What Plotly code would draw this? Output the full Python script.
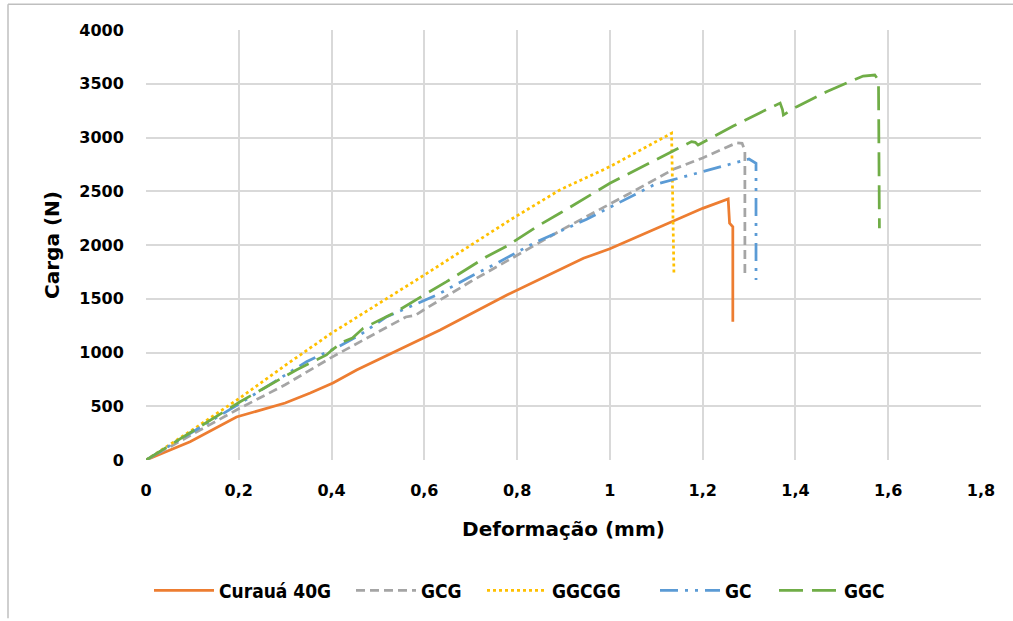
import plotly.graph_objects as go

# ---- data ----
curaua_x = [0, 0.095, 0.195, 0.224, 0.30, 0.354, 0.403, 0.454, 0.634, 0.778, 0.943, 1.0, 1.2, 1.255, 1.257, 1.258, 1.265, 1.265]
curaua_y = [0, 170, 400, 437, 530, 623, 716, 837, 1209, 1535, 1876, 1965, 2341, 2428, 2300, 2202, 2170, 1287]

gcg_x = [0, 0.1, 0.195, 0.3, 0.4, 0.5, 0.56, 0.58, 0.6, 0.7, 0.8, 0.9, 1.036, 1.137, 1.2, 1.25, 1.273, 1.285, 1.291, 1.291]
gcg_y = [0, 235, 465, 700, 955, 1190, 1330, 1345, 1400, 1660, 1907, 2150, 2465, 2704, 2810, 2905, 2950, 2945, 2880, 1720]

ggcgg_x = [0, 0.1, 0.2, 0.3, 0.4, 0.6, 0.785, 0.892, 1.0, 1.072, 1.133, 1.138]
ggcgg_y = [0, 280, 570, 880, 1180, 1721, 2233, 2512, 2729, 2900, 3040, 1742]

gc_x = [0, 0.1, 0.2, 0.3, 0.346, 0.415, 0.461, 0.519, 0.584, 0.627, 0.706, 0.749, 0.835, 0.95, 1.094, 1.2, 1.27, 1.30, 1.315, 1.315]
gc_y = [0, 260, 520, 790, 915, 1054, 1163, 1333, 1457, 1535, 1721, 1814, 2015, 2240, 2558, 2682, 2767, 2800, 2760, 1674]

ggc_x = [0, 0.1, 0.203, 0.26, 0.325, 0.389, 0.40, 0.425, 0.445, 0.468, 0.54, 0.605, 0.648, 0.734, 0.778, 0.842, 0.892, 1.0, 1.115,
         1.166, 1.176, 1.184, 1.19, 1.23, 1.266, 1.324, 1.355, 1.367, 1.372, 1.374, 1.385, 1.403, 1.467, 1.518, 1.546, 1.571, 1.579, 1.581]
ggc_y = [0, 270, 542, 682, 840, 977, 1020, 1100, 1135, 1225, 1380, 1550, 1659, 1891, 1990, 2170, 2295, 2574, 2828,
         2946, 2962, 2955, 2930, 3023, 3107, 3231, 3300, 3320, 3260, 3209, 3240, 3287, 3426, 3519, 3572, 3581, 3535, 2155]

x_ticks = [0, 0.2, 0.4, 0.6, 0.8, 1.0, 1.2, 1.4, 1.6, 1.8]
x_tick_labels = ["0", "0,2", "0,4", "0,6", "0,8", "1", "1,2", "1,4", "1,6", "1,8"]
y_ticks = [0, 500, 1000, 1500, 2000, 2500, 3000, 3500, 4000]
y_tick_labels = [str(v) for v in y_ticks]

series = [
    ("Curauá 40G", curaua_x, curaua_y, "#ED7D31", "solid"),
    ("GCG", gcg_x, gcg_y, "#A5A5A5", "9px,5px"),
    ("GGCGG", ggcgg_x, ggcgg_y, "#FFC000", "3px,3px"),
    ("GC", gc_x, gc_y, "#5B9BD5", "18px,7px,3px,7px,3px,7px"),
    ("GGC", ggc_x, ggc_y, "#70AD47", "24px,9px"),
]

# left pixel of each legend entry's symbol in the reference
legend_px = [155, 357, 488, 661, 780]

PLOT_L, PLOT_R, PLOT_T, PLOT_B = 146, 981, 30, 465
PW, PH = PLOT_R - PLOT_L, PLOT_B - PLOT_T

fig = go.Figure()
legend_layouts = {}
for i, (name, xs, ys, color, dash) in enumerate(series):
    lname = "legend" if i == 0 else f"legend{i + 1}"
    fig.add_trace(go.Scatter(x=xs, y=ys, mode="lines", name=name, legend=lname,
                             line=dict(color=color, width=2.75, dash=dash)))
    legend_layouts[lname] = dict(
        orientation="h", x=(legend_px[i] - 6 - PLOT_L) / PW, xanchor="left",
        y=(PLOT_B - 597) / PH, yanchor="middle", bgcolor="rgba(0,0,0,0)",
        font=dict(family="DejaVu Sans Condensed", size=19, color="#000000", weight="bold"),
        itemwidth=60)

tick_font = dict(family="DejaVu Sans", size=16, color="#000000", weight="bold")
title_font = dict(family="DejaVu Sans", size=20, color="#000000")

fig.update_layout(
    width=1013, height=621,
    margin=dict(l=PLOT_L, r=1013 - PLOT_R, t=PLOT_T, b=621 - PLOT_B),
    paper_bgcolor="white", plot_bgcolor="white",
    font=dict(family="DejaVu Sans", color="#000000"),
    showlegend=True,
    xaxis=dict(range=[0, 1.8], tickvals=x_ticks, ticktext=x_tick_labels,
               showgrid=True, gridcolor="#D9D9D9", gridwidth=2, zeroline=False,
               showline=False, ticks="outside", ticklen=16, tickcolor="rgba(0,0,0,0)",
               tickfont=tick_font,
               title=dict(text="<b>Deformação (mm)</b>", font=title_font, standoff=22)),
    yaxis=dict(range=[0, 4000], tickvals=y_ticks, ticktext=y_tick_labels,
               showgrid=True, gridcolor="#D9D9D9", gridwidth=2, zeroline=False,
               showline=False, ticks="outside", ticklen=18, tickcolor="rgba(0,0,0,0)",
               tickfont=tick_font,
               title=dict(text="<b>Carga (N)</b>", font=title_font, standoff=14)),
    **legend_layouts,
)

# outer chart frame (left and top edges visible in the reference)
fig.add_shape(type="line", xref="paper", yref="paper", x0=(8 - PLOT_L) / PW, x1=(8 - PLOT_L) / PW,
              y0=(PLOT_B - 4) / PH, y1=(PLOT_B - 625) / PH, line=dict(color="#BFBFBF", width=1.5))
fig.add_shape(type="line", xref="paper", yref="paper", x0=(8 - PLOT_L) / PW, x1=(1015 - PLOT_L) / PW,
              y0=(PLOT_B - 4) / PH, y1=(PLOT_B - 4) / PH, line=dict(color="#BFBFBF", width=1.5))

fig.write_html("out.html", config={"displayModeBar": False},
               post_script="document.body.style.margin='0';")
